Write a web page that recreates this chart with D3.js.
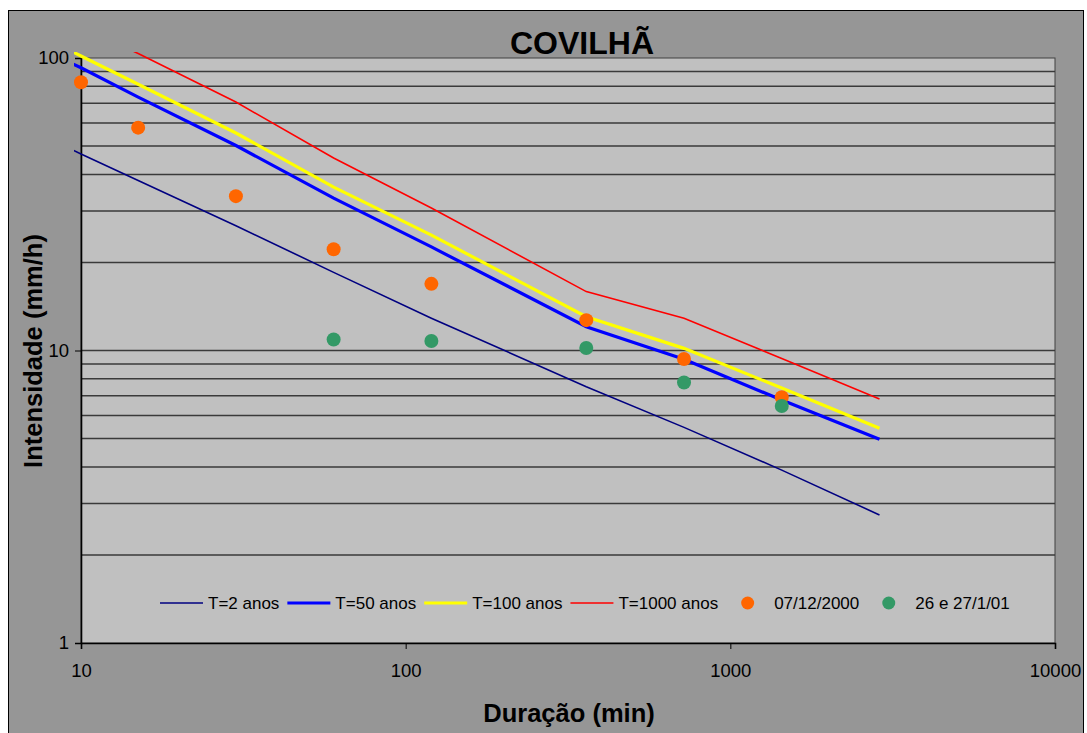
<!DOCTYPE html>
<html>
<head>
<meta charset="utf-8">
<script src="https://cdn.jsdelivr.net/npm/d3@7"></script>
<style>
  body { margin: 0; background: #fff; }
  text { font-family: "Liberation Sans", Arial, sans-serif; }
</style>
</head>
<body>
<svg id="chart" width="1087" height="733"></svg>
<script>
// durations (min) for the IDF curves; 5 min point sits just left of the axis and gets clipped
var durations = [5, 10, 15, 30, 60, 120, 360, 720, 1440, 2880];
var t2 = [67, 47, 38.1, 26.7, 18.5, 12.9, 7.52, 5.46, 3.9, 2.74];
var t50 = [134, 92.6, 73.5, 50.2, 33.2, 22.6, 12.06, 9.33, 6.77, 4.97];
var t100 = [149, 101.6, 81.3, 55.4, 36.2, 24.8, 13.05, 10.17, 7.44, 5.42];
var t1000 = [186, 128, 103.6, 70.7, 45.5, 30.7, 15.9, 12.9, 9.39, 6.83];

var evDur1 = [10, 15, 30, 60, 120, 360, 720, 1440];
var ev1 = [82.6, 57.8, 33.7, 22.2, 16.9, 12.7, 9.35, 6.92];
var evDur2 = [60, 120, 360, 720, 1440];
var ev2 = [10.9, 10.78, 10.2, 7.77, 6.46];

var xTicks = [10, 100, 1000, 10000];
var yTicks = [1, 10, 100];
var yGrid = [2, 3, 4, 5, 6, 7, 8, 9, 10, 20, 30, 40, 50, 60, 70, 80, 90];

var lineSeries = [
  { name: "T=2 anos", vals: t2, color: "#000080", w: 1.6 },
  { name: "T=50 anos", vals: t50, color: "#0000FF", w: 3.2 },
  { name: "T=100 anos", vals: t100, color: "#FFFF00", w: 3.2 },
  { name: "T=1000 anos", vals: t1000, color: "#FF0000", w: 1.6 }
];
var dotSeries = [
  { name: "07/12/2000", dur: evDur1, vals: ev1, color: "#FF6600" },
  { name: "26 e 27/1/01", dur: evDur2, vals: ev2, color: "#339966" }
];

var svg = d3.select("#chart");
var plot = { left: 81, right: 1055, top: 58, bottom: 643 };

var x = d3.scaleLog().domain([10, 10000]).range([plot.left, plot.right]);
var y = d3.scaleLog().domain([1, 100]).range([plot.bottom, plot.top]);

// outer chart area
svg.append("rect")
  .attr("x", 8.5).attr("y", 10.5)
  .attr("width", 1075).attr("height", 740)
  .attr("fill", "#969696")
  .attr("stroke", "#000").attr("stroke-width", 1);

// plot area
svg.append("rect")
  .attr("x", plot.left).attr("y", plot.top)
  .attr("width", plot.right - plot.left).attr("height", plot.bottom - plot.top)
  .attr("fill", "#C0C0C0")
  .attr("stroke", "#404040").attr("stroke-width", 1);

// horizontal gridlines
svg.append("g").selectAll("line")
  .data(yGrid)
  .enter().append("line")
  .attr("x1", plot.left).attr("x2", plot.right)
  .attr("y1", (d) => y(d)).attr("y2", (d) => y(d))
  .attr("stroke", "#3a3a3a")
  .attr("stroke-width", 1.5);

// axes
var yAxis = d3.axisLeft(y).tickValues(yTicks).tickFormat(d3.format("d")).tickSize(6).tickPadding(6);
var xAxis = d3.axisBottom(x).tickValues(xTicks).tickFormat(d3.format("d")).tickSize(6).tickPadding(15);

var gy = svg.append("g").attr("transform", "translate(" + plot.left + ",0)").call(yAxis);
var gx = svg.append("g").attr("transform", "translate(0," + plot.bottom + ")").call(xAxis);

[gx, gy].forEach(function (g) {
  g.select(".domain").attr("stroke", "#000").attr("stroke-width", 1.6);
  g.selectAll(".tick line").attr("stroke", "#000").attr("stroke-width", 1);
  g.selectAll(".tick text")
    .attr("fill", "#000")
    .style("font-size", "18.5px")
    .style("font-family", "'Liberation Sans', Arial, sans-serif");
});

// Excel lets the series spill a few pixels past the plot area
svg.append("clipPath").attr("id", "clip")
  .append("rect")
  .attr("x", plot.left - 7).attr("y", plot.top - 6)
  .attr("width", plot.right - plot.left + 14).attr("height", plot.bottom - plot.top + 12);

var line = d3.line()
  .x((d) => x(d[0]))
  .y((d) => y(d[1]));

var gl = svg.append("g").attr("clip-path", "url(#clip)");
lineSeries.forEach(function (s) {
  gl.append("path")
    .datum(durations.map((d, i) => [d, s.vals[i]]))
    .attr("d", line)
    .attr("fill", "none")
    .attr("stroke", s.color)
    .attr("stroke-width", s.w);
});

dotSeries.forEach(function (s) {
  svg.append("g").selectAll("circle")
    .data(s.dur.map((d, i) => [d, s.vals[i]]))
    .enter().append("circle")
    .attr("cx", (d) => x(d[0]))
    .attr("cy", (d) => y(d[1]))
    .attr("r", 7)
    .attr("fill", s.color);
});

// legend
var lg = svg.append("g").attr("transform", "translate(160,603)");
var cx = 0;
var items = lineSeries.map((s) => ({ name: s.name, color: s.color, w: s.w, kind: "line" }))
  .concat(dotSeries.map((s) => ({ name: s.name, color: s.color, kind: "dot" })));
items.forEach(function (it) {
  if (it.kind == "line") {
    lg.append("line")
      .attr("x1", cx).attr("x2", cx + 43)
      .attr("y1", 0).attr("y2", 0)
      .attr("stroke", it.color)
      .attr("stroke-width", it.w);
  } else {
    lg.append("circle")
      .attr("cx", cx + 21.5).attr("cy", 0)
      .attr("r", 6.5)
      .attr("fill", it.color);
  }
  var t = lg.append("text")
    .attr("x", cx + 48).attr("y", 6)
    .attr("fill", "#000")
    .style("font-size", "17px")
    .text(it.name);
  cx += 48 + t.node().getComputedTextLength() + 8;
});

// titles
svg.append("text")
  .attr("x", 582).attr("y", 54)
  .attr("text-anchor", "middle")
  .style("font-size", "32px")
  .style("font-weight", "bold")
  .text("COVILHÃ");

svg.append("text")
  .attr("x", 569).attr("y", 722)
  .attr("text-anchor", "middle")
  .style("font-size", "25.5px")
  .style("font-weight", "bold")
  .text("Duração (min)");

svg.append("text")
  .attr("transform", "translate(42,351) rotate(-90)")
  .attr("text-anchor", "middle")
  .style("font-size", "25.5px")
  .style("font-weight", "bold")
  .text("Intensidade (mm/h)");
</script>
</body>
</html>
